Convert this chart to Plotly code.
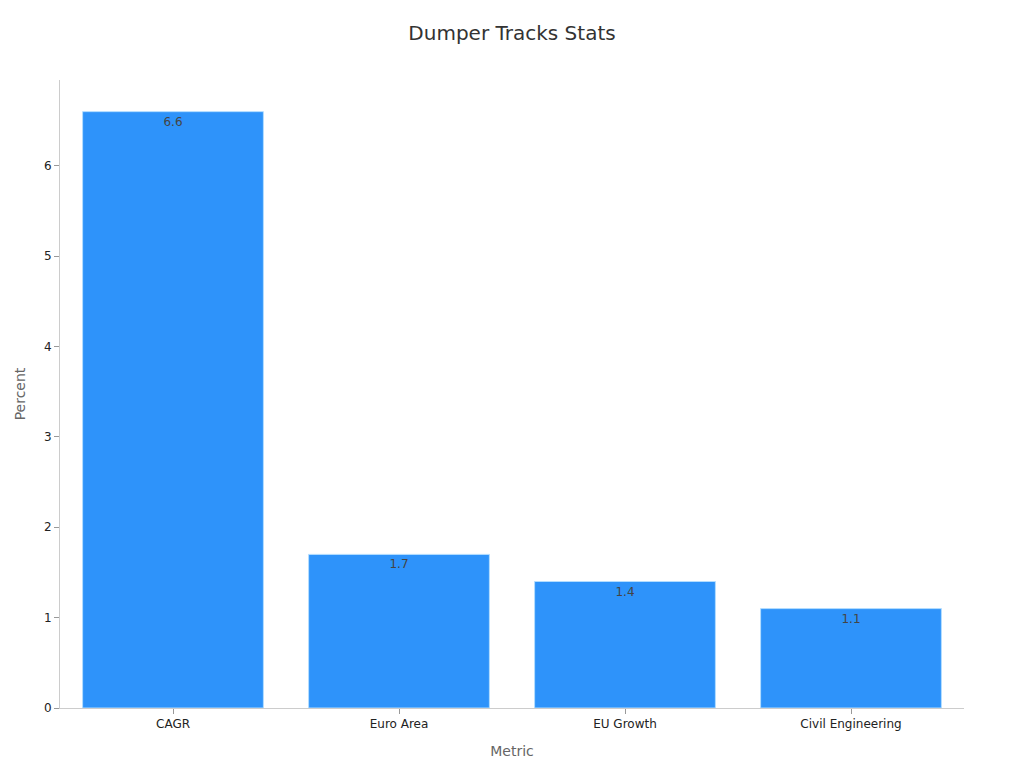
import plotly.graph_objects as go

# chart data
metrics = ["CAGR", "Euro Area", "EU Growth", "Civil Engineering"]
percent = [6.6, 1.7, 1.4, 1.1]

FONT = "DejaVu Sans"

trace = go.Bar(
    x=metrics,
    y=percent,
    text=[str(v) for v in percent],
    textposition="inside",
    insidetextanchor="end",
    textfont=dict(family=FONT, size=12, color="#444444"),
    marker=dict(color="#2E93FA", line=dict(color="#B3DDFF", width=1)),
)

layout = go.Layout(
    title=dict(
        text="Dumper Tracks Stats",
        xref="paper",
        x=0.5,
        xanchor="center",
        y=0.967,
        yanchor="middle",
        font=dict(family=FONT, size=20, color="#333333"),
    ),
    font=dict(family=FONT, size=12, color="#333333"),
    paper_bgcolor="white",
    plot_bgcolor="white",
    width=1016,
    height=760,
    margin=dict(l=52, r=60, t=72, b=60),
    bargap=0.2,
    showlegend=False,
    xaxis=dict(
        title=dict(text="Metric", font=dict(size=14, color="#666666"), standoff=15),
        showline=True,
        linecolor="#CCCCCC",
        linewidth=1,
        ticks="outside",
        tickcolor="#999999",
        ticklen=5,
        showgrid=False,
        tickfont=dict(size=12, color="#222222"),
    ),
    yaxis=dict(
        title=dict(text="Percent", font=dict(size=14, color="#666666"), standoff=15),
        showline=True,
        linecolor="#CCCCCC",
        linewidth=1,
        ticks="outside",
        tickcolor="#999999",
        ticklen=5,
        showgrid=False,
        zeroline=False,
        range=[0, 6.95],
        dtick=1,
        tickfont=dict(size=12, color="#222222"),
    ),
)

fig = go.Figure(data=[trace], layout=layout)
fig.write_html("out.html")
